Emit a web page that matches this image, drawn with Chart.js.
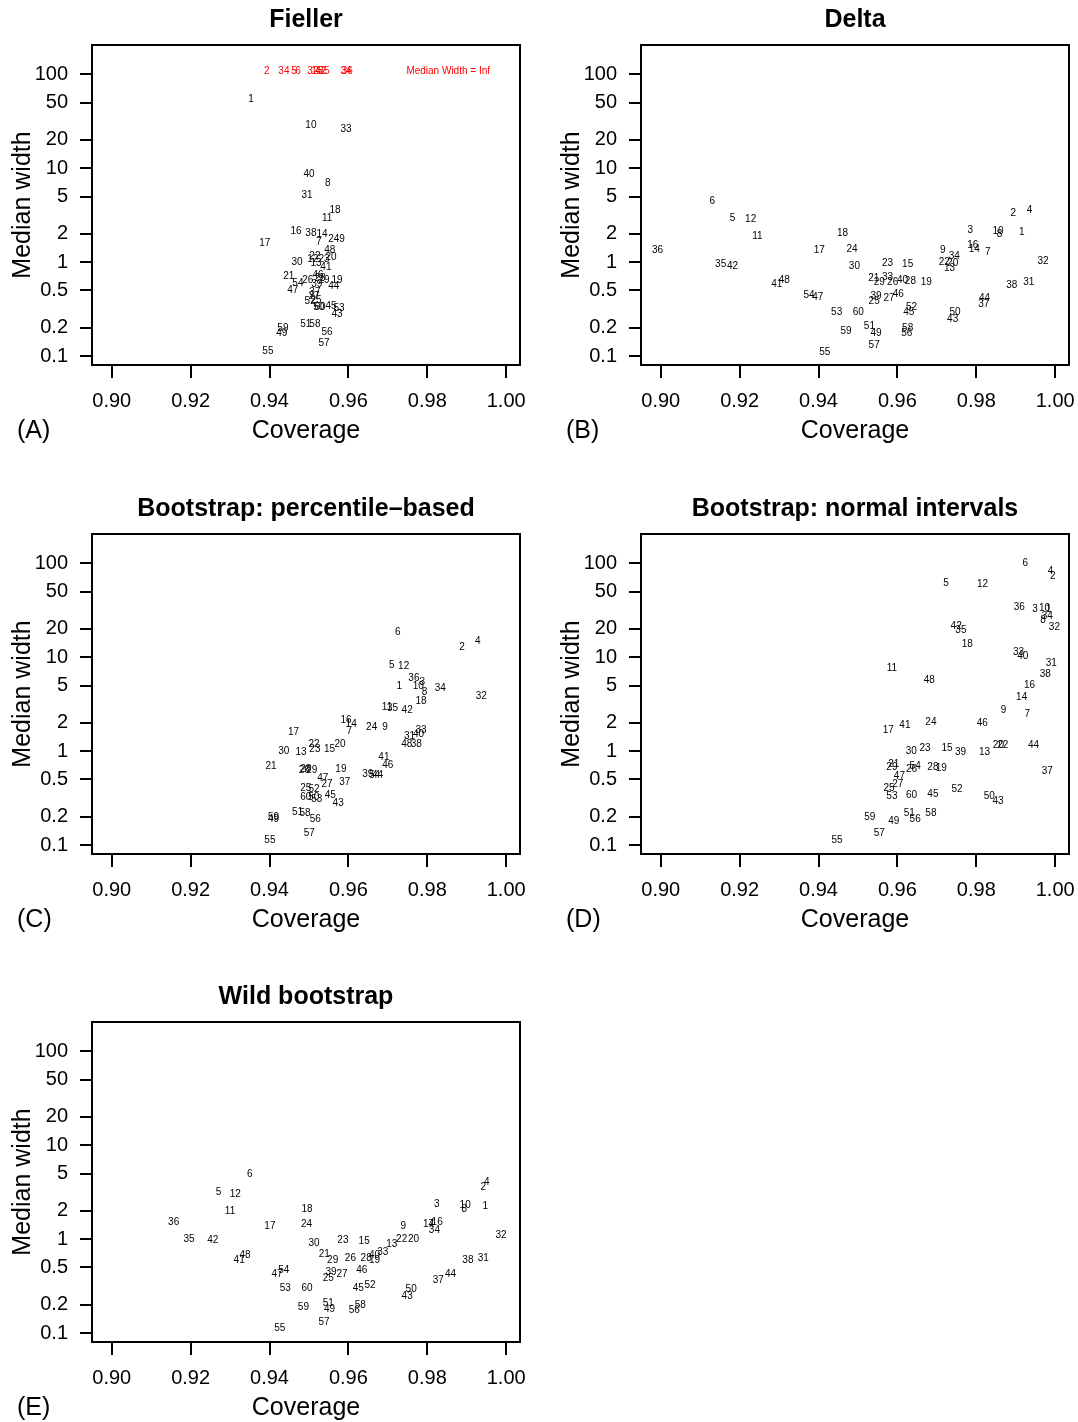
<!DOCTYPE html>
<html lang="en">
<head>
<meta charset="UTF-8" />
<title>Coverage vs median width</title>
<script src="https://cdn.jsdelivr.net/npm/chart.js"></script>
<style>
    body {
        margin: 0;
        background: #fff;
        width: 1078px;
        height: 1422px;
        overflow: hidden;
        position: relative;
    }
    canvas {
        position: absolute;
    }
</style>
</head>
<body>
<canvas id="panelA" width="529" height="488" style="left: 0; top: 0"></canvas>
<canvas id="panelB" width="529" height="488" style="left: 549px; top: 0"></canvas>
<canvas id="panelC" width="529" height="488" style="left: 0; top: 489px"></canvas>
<canvas id="panelD" width="529" height="488" style="left: 549px; top: 489px"></canvas>
<canvas id="panelE" width="529" height="488" style="left: 0; top: 977px"></canvas>

<script>
    // model numbers 1..60, one entry per model in every array below
    const modelIds = [
        1, 2, 3, 4, 5, 6, 7, 8, 9, 10, 11, 12, 13, 14, 15, 16, 17, 18, 19, 20,
        21, 22, 23, 24, 25, 26, 27, 28, 29, 30, 31, 32, 33, 34, 35, 36, 37, 38, 39, 40,
        41, 42, 43, 44, 45, 46, 47, 48, 49, 50, 51, 52, 53, 54, 55, 56, 57, 58, 59, 60,
    ]

    const coverageTicks = [0.9, 0.92, 0.94, 0.96, 0.98, 1.0]
    const widthTicks = [0.1, 0.2, 0.5, 1, 2, 5, 10, 20, 50, 100]

    // (A) Fieller -- Infinity = interval of infinite width
    const fiellerCoverage = [
        0.9353, 0.9393, 0.9429, 0.9444, 0.9462, 0.9472, 0.9525, 0.9548, 0.9584, 0.9505,
        0.9546, 0.951, 0.9518, 0.9533, 0.952, 0.9467, 0.9388, 0.9566, 0.9571, 0.9556,
        0.9449, 0.9515, 0.9538, 0.9563, 0.9518, 0.9497, 0.9513, 0.9528, 0.9538, 0.947,
        0.9495, 0.951, 0.9594, 0.9594, 0.9538, 0.9597, 0.9515, 0.9505, 0.952, 0.95,
        0.9543, 0.953, 0.9571, 0.9563, 0.9556, 0.9523, 0.9459, 0.9553, 0.9431, 0.9525,
        0.9492, 0.9503, 0.9576, 0.9472, 0.9396, 0.9546, 0.9538, 0.9515, 0.9434, 0.9528,
    ]
    const fiellerWidth = [
        54, Infinity, Infinity, Infinity, Infinity, Infinity, 1.65, 7.0, 1.74, 28.8,
        2.97, 1.07, 0.97, 1.96, Infinity, 2.11, 1.61, 3.6, 0.65, 1.12,
        0.7, 1.15, 1.07, 1.74, 0.39, 0.65, 0.43, 0.67, 0.64, 0.99,
        5.2, Infinity, 26.1, Infinity, Infinity, Infinity, 0.48, 2.05, 0.58, 8.7,
        0.88, Infinity, 0.28, 0.56, 0.34, 0.72, 0.5, 1.33, 0.175, 0.33,
        0.22, 0.38, 0.32, 0.59, 0.113, 0.18, 0.137, 0.22, 0.2, 0.33,
    ]

    // (B) Delta
    const deltaCoverage = [
        0.9915, 0.9894, 0.9785, 0.9935, 0.9182, 0.9131, 0.9829, 0.9859, 0.9715, 0.9855,
        0.9245, 0.9228, 0.9732, 0.9795, 0.9626, 0.9791, 0.9402, 0.9461, 0.9673, 0.974,
        0.954, 0.9719, 0.9575, 0.9485, 0.9541, 0.9588, 0.9579, 0.9633, 0.9554, 0.9491,
        0.9933, 0.9969, 0.9575, 0.9744, 0.9152, 0.8992, 0.9819, 0.989, 0.9546, 0.9613,
        0.9294, 0.9182, 0.974, 0.9821, 0.9629, 0.9602, 0.9398, 0.9313, 0.9546, 0.9746,
        0.9529, 0.9636, 0.9446, 0.9376, 0.9416, 0.9624, 0.9541, 0.9626, 0.947, 0.9501,
    ]
    const deltaWidth = [
        2.07, 3.3, 2.2, 3.61, 2.95, 4.42, 1.27, 1.96, 1.33, 2.16,
        1.91, 2.83, 0.86, 1.38, 0.94, 1.5, 1.35, 2.02, 0.61, 0.98,
        0.67, 1.0, 0.97, 1.38, 0.38, 0.61, 0.41, 0.62, 0.61, 0.9,
        0.61, 1.02, 0.69, 1.15, 0.96, 1.35, 0.36, 0.57, 0.43, 0.65,
        0.58, 0.91, 0.25, 0.41, 0.29, 0.46, 0.42, 0.65, 0.175, 0.29,
        0.21, 0.33, 0.29, 0.45, 0.109, 0.175, 0.13, 0.2, 0.185, 0.29,
    ]

    // (C) Bootstrap: percentile-based
    const percCoverage = [
        0.9729, 0.9888, 0.9787, 0.9928, 0.971, 0.9725, 0.9602, 0.9793, 0.9693, 0.9777,
        0.9698, 0.974, 0.948, 0.9607, 0.9552, 0.9594, 0.9461, 0.9784, 0.9581, 0.9579,
        0.9404, 0.9513, 0.9515, 0.9659, 0.9492, 0.9488, 0.9546, 0.9492, 0.9507, 0.9436,
        0.9755, 0.9937, 0.9784, 0.9833, 0.9712, 0.9766, 0.9591, 0.9772, 0.9649, 0.9778,
        0.969, 0.9749, 0.9574, 0.9674, 0.9554, 0.97, 0.9535, 0.9748, 0.941, 0.9512,
        0.9471, 0.9513, 0.952, 0.9666, 0.9401, 0.9516, 0.9501, 0.949, 0.941, 0.9492,
    ]
    const percWidth = [
        4.96, 12.9, 5.47, 14.9, 8.3, 18.5, 1.65, 4.21, 1.82, 4.96,
        2.92, 8.1, 0.97, 1.95, 1.06, 2.11, 1.59, 3.44, 0.64, 1.19,
        0.69, 1.19, 1.06, 1.79, 0.4, 0.62, 0.44, 0.64, 0.62, 0.99,
        1.43, 3.89, 1.69, 4.64, 2.85, 5.93, 0.47, 1.19, 0.57, 1.52,
        0.86, 2.7, 0.28, 0.56, 0.34, 0.7, 0.51, 1.19, 0.187, 0.32,
        0.225, 0.39, 0.31, 0.56, 0.113, 0.187, 0.135, 0.22, 0.2, 0.32,
    ]

    // (D) Bootstrap: normal intervals
    const normCoverage = [
        0.9983, 0.9994, 0.9949, 0.9988, 0.9723, 0.9924, 0.9929, 0.9969, 0.9869, 0.9973,
        0.9586, 0.9816, 0.9821, 0.9915, 0.9726, 0.9935, 0.9577, 0.9777, 0.9711, 0.9856,
        0.9591, 0.9867, 0.967, 0.9685, 0.9579, 0.9636, 0.9601, 0.969, 0.9586, 0.9635,
        0.999, 0.9998, 0.9907, 0.998, 0.9761, 0.9909, 0.998, 0.9975, 0.976, 0.9918,
        0.9619, 0.9749, 0.9855, 0.9945, 0.969, 0.9815, 0.9605, 0.9681, 0.9591, 0.9833,
        0.963, 0.9751, 0.9586, 0.9645, 0.9447, 0.9645, 0.9554, 0.9685, 0.953, 0.9636,
    ]
    const normWidth = [
        32.3, 72.8, 32.8, 82.3, 61.8, 101, 2.49, 24.9, 2.76, 33.1,
        7.6, 59.4, 0.97, 3.73, 1.08, 5.05, 1.69, 13.7, 0.66, 1.15,
        0.72, 1.15, 1.07, 2.02, 0.4, 0.65, 0.44, 0.67, 0.67, 1.01,
        8.55, 21.1, 11.2, 27.0, 19.5, 34.1, 0.61, 6.6, 0.97, 10.3,
        1.87, 21.5, 0.29, 1.15, 0.35, 2.0, 0.54, 5.7, 0.18, 0.33,
        0.22, 0.39, 0.33, 0.69, 0.113, 0.187, 0.135, 0.22, 0.2, 0.34,
    ]

    // (E) Wild bootstrap
    const wildCoverage = [
        0.9947, 0.9942, 0.9824, 0.9951, 0.9271, 0.935, 0.981, 0.9894, 0.9739, 0.9896,
        0.93, 0.9313, 0.971, 0.9803, 0.964, 0.9825, 0.9401, 0.9495, 0.9666, 0.9765,
        0.9539, 0.9735, 0.9586, 0.9494, 0.9549, 0.9605, 0.9584, 0.9645, 0.956, 0.9513,
        0.9942, 0.9987, 0.9687, 0.9818, 0.9196, 0.9157, 0.9828, 0.9903, 0.9556, 0.9666,
        0.9323, 0.9256, 0.9749, 0.9859, 0.9625, 0.9634, 0.9419, 0.9338, 0.9552, 0.9759,
        0.9549, 0.9655, 0.944, 0.9436, 0.9426, 0.9615, 0.9538, 0.963, 0.9486, 0.9495,
    ]
    const wildWidth = [
        2.22, 3.61, 2.37, 4.01, 3.14, 4.92, 1.43, 2.06, 1.39, 2.27,
        1.98, 3.02, 0.88, 1.45, 0.94, 1.51, 1.37, 2.1, 0.6, 0.99,
        0.69, 0.99, 0.97, 1.43, 0.38, 0.62, 0.42, 0.63, 0.6, 0.91,
        0.63, 1.11, 0.73, 1.23, 1.01, 1.51, 0.37, 0.6, 0.45, 0.67,
        0.59, 0.97, 0.25, 0.42, 0.3, 0.47, 0.42, 0.67, 0.178, 0.29,
        0.21, 0.32, 0.3, 0.47, 0.112, 0.175, 0.13, 0.2, 0.19, 0.3,
    ]

    // row where infinite widths are written
    const INF_ROW = 108

    const FONT = "'Liberation Sans', Arial, Helvetica, sans-serif"
    Chart.defaults.font.family = FONT
    Chart.defaults.color = "#000"

    // frame, title, axis titles and panel letter
    const panelDecor = {
        id: "panelDecor",
        afterDraw(chart, args, opts) {
            const ctx = chart.ctx
            const a = chart.chartArea
            const cx = (a.left + a.right) / 2
            ctx.save()
            ctx.strokeStyle = "#000"
            ctx.lineWidth = 2
            ctx.strokeRect(a.left, a.top, a.right - a.left, a.bottom - a.top)
            ctx.fillStyle = "#000"
            ctx.textAlign = "center"
            ctx.textBaseline = "middle"
            ctx.font = "bold 25px " + FONT
            ctx.fillText(opts.title, cx, 20)
            ctx.font = "25px " + FONT
            ctx.fillText("Coverage", cx, 431)
            ctx.textAlign = "left"
            ctx.fillText(opts.letter, 17, 431)
            ctx.translate(23, (a.top + a.bottom) / 2)
            ctx.rotate(-Math.PI / 2)
            ctx.textAlign = "center"
            ctx.fillText("Median width", 0, 0)
            ctx.restore()
        },
    }

    // model numbers written at each point, plus optional note
    const pointLabels = {
        id: "pointLabels",
        afterDatasetsDraw(chart) {
            const ctx = chart.ctx
            ctx.save()
            ctx.font = "10px " + FONT
            ctx.textAlign = "center"
            ctx.textBaseline = "middle"
            chart.data.datasets.forEach((ds, i) => {
                ctx.fillStyle = ds.textColor
                chart.getDatasetMeta(i).data.forEach((pt, j) => {
                    ctx.fillText(ds.pointText[j], pt.x, pt.y)
                })
            })
            const note = chart.options.plugins.panelDecor.note
            if (note) {
                ctx.fillStyle = "#ff0000"
                ctx.fillText(
                    note.text,
                    chart.scales.x.getPixelForValue(note.x),
                    chart.scales.y.getPixelForValue(note.y)
                )
            }
            ctx.restore()
        },
    }

    function makePanel(canvasId, title, letter, coverage, width, note) {
        const finite = { data: [], pointText: [], textColor: "#000", pointRadius: 0 }
        const infinite = { data: [], pointText: [], textColor: "#ff0000", pointRadius: 0 }
        modelIds.forEach((m, i) => {
            if (isFinite(width[i])) {
                finite.data.push({ x: coverage[i], y: width[i] })
                finite.pointText.push(String(m))
            } else {
                infinite.data.push({ x: coverage[i], y: INF_ROW })
                infinite.pointText.push(String(m))
            }
        })
        return new Chart(document.getElementById(canvasId), {
            type: "scatter",
            data: { datasets: [finite, infinite] },
            plugins: [panelDecor, pointLabels],
            options: {
                responsive: false,
                animation: false,
                events: [],
                layout: { padding: { left: 0, right: 9, top: 45, bottom: 0 } },
                plugins: {
                    legend: { display: false },
                    tooltip: { enabled: false },
                    panelDecor: { title: title, letter: letter, note: note },
                },
                scales: {
                    x: {
                        type: "linear",
                        min: 0.895,
                        max: 1.0035,
                        afterBuildTicks: (s) => {
                            s.ticks = coverageTicks.map((v) => ({ value: v }))
                        },
                        afterFit: (s) => {
                            s.height = 123
                            s.paddingLeft = 0
                            s.paddingRight = 0
                        },
                        grid: { drawOnChartArea: false, tickLength: 13, lineWidth: 2, color: "#000" },
                        border: { display: false },
                        ticks: {
                            color: "#000",
                            font: { size: 20 },
                            padding: 11,
                            maxRotation: 0,
                            autoSkip: false,
                            callback: (v) => v.toFixed(2),
                        },
                    },
                    y: {
                        type: "logarithmic",
                        min: 0.0805,
                        max: 205,
                        afterBuildTicks: (s) => {
                            s.ticks = widthTicks.map((v) => ({ value: v }))
                        },
                        afterFit: (s) => {
                            s.width = 92
                            s.paddingTop = 0
                            s.paddingBottom = 0
                        },
                        grid: { drawOnChartArea: false, tickLength: 12, lineWidth: 2, color: "#000" },
                        border: { display: false },
                        ticks: {
                            color: "#000",
                            font: { size: 20 },
                            padding: 12,
                            autoSkip: false,
                            callback: (v) => String(v),
                        },
                    },
                },
            },
        })
    }

    makePanel("panelA", "Fieller", "(A)", fiellerCoverage, fiellerWidth, {
        text: "Median Width = Inf",
        x: 0.9853,
        y: INF_ROW,
    })
    makePanel("panelB", "Delta", "(B)", deltaCoverage, deltaWidth)
    makePanel("panelC", "Bootstrap: percentile\u2013based", "(C)", percCoverage, percWidth)
    makePanel("panelD", "Bootstrap: normal intervals", "(D)", normCoverage, normWidth)
    makePanel("panelE", "Wild bootstrap", "(E)", wildCoverage, wildWidth)
</script>
</body>
</html>
